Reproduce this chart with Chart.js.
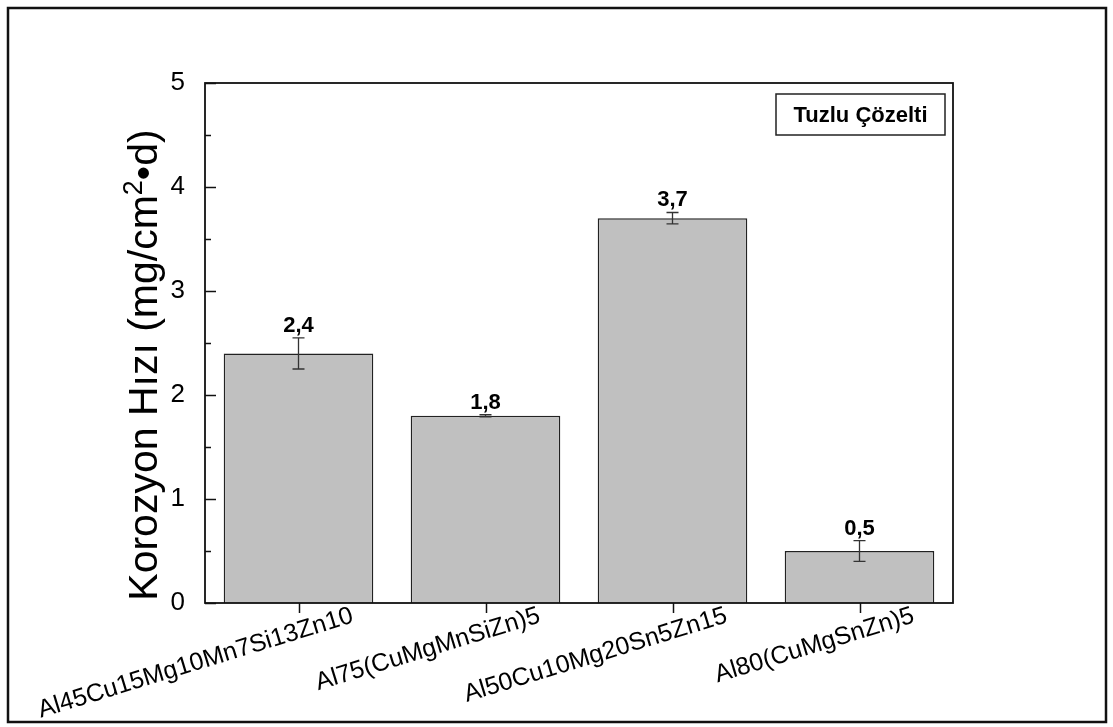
<!DOCTYPE html>
<html>
<head>
<meta charset="utf-8">
<script src="https://cdn.jsdelivr.net/npm/chart.js@4/dist/chart.umd.min.js"></script>
<style>
  html, body { margin: 0; padding: 0; background: #fff; }
  #wrap { width: 1113px; height: 727px; }
</style>
</head>
<body>
<div id="wrap"><canvas id="c" width="1113" height="727"></canvas></div>
<script>
// Alloy compositions and their corrosion rates in salt solution
const categories = [
  'Al45Cu15Mg10Mn7Si13Zn10',
  'Al75(CuMgMnSiZn)5',
  'Al50Cu10Mg20Sn5Zn15',
  'Al80(CuMgSnZn)5'
];
const rates = [2.4, 1.8, 3.7, 0.5];
const rateErrors = [0.15, 0.01, 0.055, 0.1];
const yTicks = [0, 1, 2, 3, 4, 5];
const legendText = 'Tuzlu Çözelti';

const FONT = '"Liberation Sans", Arial, sans-serif';

// Draws the frame, inward y ticks, error bars, value labels, axis title and the note box
const decorations = {
  id: 'decorations',
  beforeDraw(chart) {
    const ctx = chart.ctx;
    ctx.save();
    ctx.fillStyle = '#fff';
    ctx.fillRect(0, 0, chart.width, chart.height);
    ctx.restore();
  },
  afterDraw(chart) {
    const ctx = chart.ctx;
    const a = chart.chartArea;
    const ys = chart.scales.y;
    const xs = chart.scales.x;
    ctx.save();

    // outer frame
    ctx.strokeStyle = '#111';
    ctx.lineWidth = 2.5;
    ctx.strokeRect(8, 8, 1098, 714);

    // plot box
    ctx.lineWidth = 1.8;
    ctx.strokeStyle = '#111';
    ctx.strokeRect(a.left, a.top, a.right - a.left, a.bottom - a.top);

    // inward y ticks: majors at integers, minors at halves
    ctx.lineWidth = 1.5;
    for (let v = 0; v <= 5; v += 0.5) {
      const py = Math.round(ys.getPixelForValue(v)) + 0.5;
      const len = Number.isInteger(v) ? 11 : 6;
      ctx.beginPath();
      ctx.moveTo(a.left, py);
      ctx.lineTo(a.left + len, py);
      ctx.stroke();
    }

    // x ticks pointing down at each category
    categories.forEach((c, i) => {
      const px = Math.round(xs.getPixelForValue(i)) + 0.5;
      ctx.beginPath();
      ctx.moveTo(px, a.bottom);
      ctx.lineTo(px, a.bottom + 10);
      ctx.stroke();
    });

    // error bars and value labels
    const meta = chart.getDatasetMeta(0);
    meta.data.forEach((bar, i) => {
      const x = bar.x;
      const top = ys.getPixelForValue(rates[i] + rateErrors[i]);
      const bot = ys.getPixelForValue(rates[i] - rateErrors[i]);
      ctx.strokeStyle = '#333';
      ctx.lineWidth = 1.3;
      ctx.beginPath();
      ctx.moveTo(x, top); ctx.lineTo(x, bot);
      ctx.moveTo(x - 6, top); ctx.lineTo(x + 6, top);
      ctx.moveTo(x - 6, bot); ctx.lineTo(x + 6, bot);
      ctx.stroke();

      ctx.fillStyle = '#000';
      ctx.font = 'bold 22px ' + FONT;
      ctx.textAlign = 'center';
      ctx.textBaseline = 'alphabetic';
      ctx.fillText(rates[i].toFixed(1).replace('.', ','), x, top - 6);
    });

    // y axis title with superscript
    ctx.save();
    ctx.translate(157, 365);
    ctx.rotate(-Math.PI / 2);
    ctx.fillStyle = '#000';
    ctx.textBaseline = 'alphabetic';
    const big = '41px ' + FONT;
    const small = '27px ' + FONT;
    const p1 = 'Korozyon Hızı (mg/cm';
    const p2 = '2';
    const p3 = '•d)';
    ctx.font = big; const w1 = ctx.measureText(p1).width; const w3 = ctx.measureText(p3).width;
    ctx.font = small; const w2 = ctx.measureText(p2).width;
    let sx = -(w1 + w2 + w3) / 2;
    ctx.font = big; ctx.textAlign = 'left';
    ctx.fillText(p1, sx, 0); sx += w1;
    ctx.font = small; ctx.fillText(p2, sx, -15); sx += w2;
    ctx.font = big; ctx.fillText(p3, sx, 0);
    ctx.restore();

    // note box
    const bx = a.right - 177, by = a.top + 11, bw = 169, bh = 41;
    ctx.fillStyle = '#fff';
    ctx.fillRect(bx, by, bw, bh);
    ctx.strokeStyle = '#222';
    ctx.lineWidth = 1.5;
    ctx.strokeRect(bx, by, bw, bh);
    ctx.fillStyle = '#000';
    ctx.font = 'bold 22px ' + FONT;
    ctx.textAlign = 'center';
    ctx.textBaseline = 'middle';
    ctx.fillText(legendText, bx + bw / 2, by + bh / 2 + 1);

    ctx.restore();
  }
};

new Chart(document.getElementById('c'), {
  type: 'bar',
  data: {
    labels: categories,
    datasets: [{
      data: rates,
      backgroundColor: '#c0c0c0',
      borderColor: '#222',
      borderWidth: 1.5,
      barPercentage: 0.8,
      categoryPercentage: 1.0
    }]
  },
  options: {
    responsive: false,
    animation: false,
    devicePixelRatio: 1,
    layout: { padding: { left: 0, top: 83, right: 160, bottom: 0 } },
    plugins: {
      legend: { display: false },
      tooltip: { enabled: false }
    },
    scales: {
      x: {
        grid: { display: false },
        border: { display: false },
        ticks: {
          color: '#000',
          font: { family: FONT, size: 25 },
          minRotation: 17,
          maxRotation: 17,
          padding: -10,
          labelOffset: 54,
          autoSkip: false
        },
        afterFit(scale) {
          scale.height = 124;
          scale.paddingLeft = 0;
          scale.paddingRight = 0;
        }
      },
      y: {
        min: 0,
        max: 5,
        afterBuildTicks(scale) { scale.ticks = yTicks.map(v => ({ value: v })); },
        grid: { display: false },
        border: { display: false },
        ticks: {
          color: '#000',
          font: { family: FONT, size: 26 },
          padding: 12
        },
        afterFit(scale) {
          scale.width = 205;
          scale.paddingTop = 0;
          scale.paddingBottom = 0;
        }
      }
    }
  },
  plugins: [decorations]
});
</script>
</body>
</html>
